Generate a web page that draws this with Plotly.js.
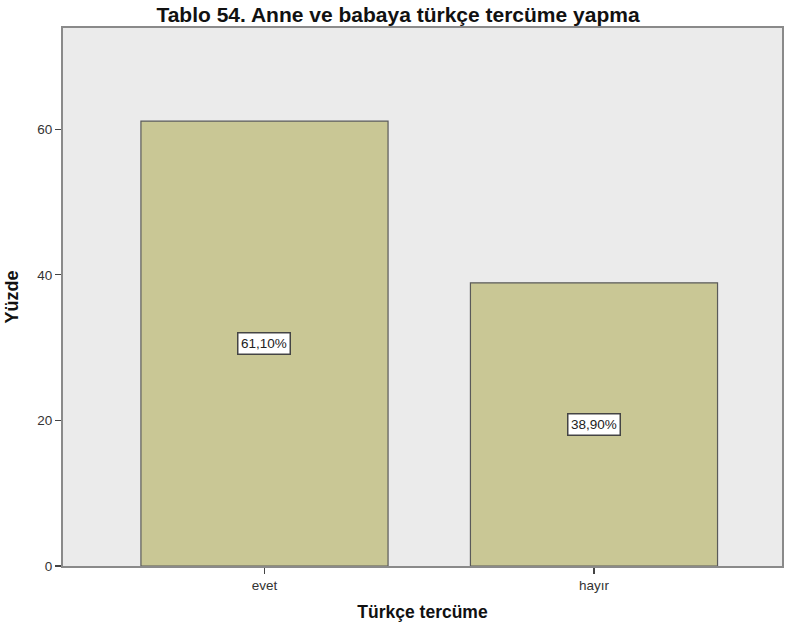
<!DOCTYPE html>
<html>
<head>
<meta charset="utf-8">
<script src="https://cdn.plot.ly/plotly-3.0.1.min.js"></script>
<style>html,body{margin:0;padding:0;background:#fff;}#chart{width:796px;height:628px;}</style>
</head>
<body>
<div id="chart"></div>
<script>
const categories = ['evet', 'hayır'];
const percentValues = [61.1, 38.9];
const valueLabels = ['61,10%', '38,90%'];
const yTicks = [0, 20, 40, 60];

const font = '"Liberation Sans", Arial, sans-serif';

const trace = {
  type: 'bar',
  x: categories,
  y: percentValues,
  width: 0.75,
  marker: { color: '#c9c795', line: { color: '#5a5a5a', width: 1.2 } },
  hoverinfo: 'none'
};

const annotations = categories.map((c, i) => ({
  x: c, y: percentValues[i] / 2, xref: 'x', yref: 'y',
  text: valueLabels[i], showarrow: false,
  font: { family: font, size: 13.5, color: '#222' },
  bgcolor: '#ffffff', bordercolor: '#444', borderwidth: 1.5, borderpad: 2.5
}));

const layout = {
  width: 796, height: 628,
  margin: { l: 63, r: 14, t: 28, b: 62 },
  paper_bgcolor: '#ffffff',
  plot_bgcolor: '#ebebeb',
  showlegend: false,
  title: {
    text: 'Tablo 54. Anne ve babaya türkçe tercüme yapma',
    font: { family: font, size: 21, color: '#111', weight: 'bold' },
    x: 0.5, xanchor: 'center', y: 0.976, yanchor: 'middle'
  },
  xaxis: {
    type: 'category',
    range: [-0.6115, 1.5706],
    showgrid: false, zeroline: false,
    showline: true, mirror: true, linecolor: '#8a8a8a', linewidth: 2,
    ticks: 'outside', ticklen: 6, tickcolor: '#444', tickwidth: 1.2,
    tickfont: { family: font, size: 13.5, color: '#333' },
    title: { text: 'Türkçe tercüme', font: { family: font, size: 17.5, color: '#111', weight: 'bold' }, standoff: 14 }
  },
  yaxis: {
    range: [0, 73.9],
    tickvals: yTicks, ticktext: yTicks.map(String),
    showgrid: false, zeroline: false,
    showline: true, mirror: true, linecolor: '#8a8a8a', linewidth: 2,
    ticks: 'outside', ticklen: 6, tickcolor: '#444', tickwidth: 1.2,
    tickfont: { family: font, size: 13.5, color: '#333' },
    title: { text: 'Yüzde', font: { family: font, size: 18, color: '#111', weight: 'bold' }, standoff: 14 }
  },
  annotations: annotations
};

Plotly.newPlot('chart', [trace], layout, { displayModeBar: false, staticPlot: true });
</script>
</body>
</html>
